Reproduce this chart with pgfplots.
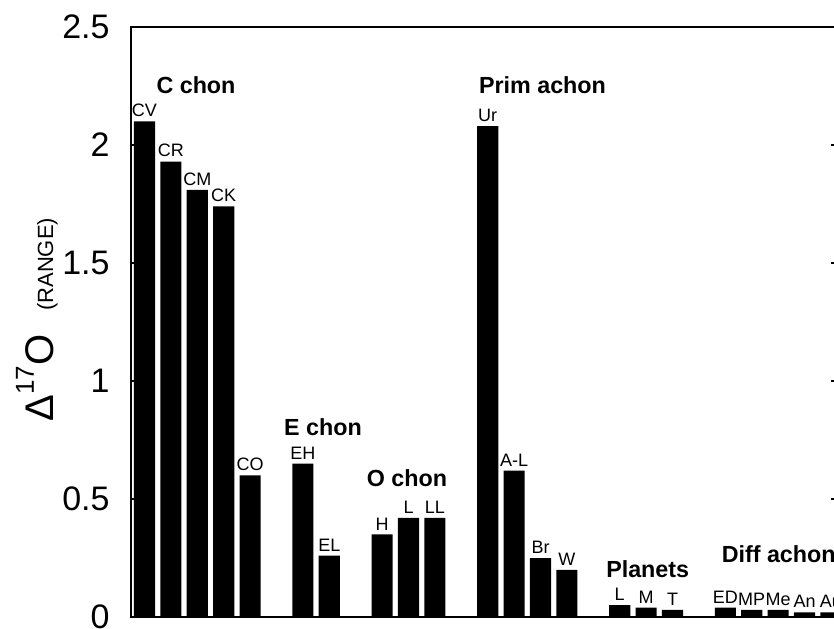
\documentclass[border=0pt]{standalone}
\usepackage{pgfplots}
\pgfplotsset{compat=1.18}
\usepackage{pgfplotstable}
\usepackage{fontspec}
\setmainfont{Liberation Sans}

\pgfplotstableread{
x label y
0 CV 2.10
1 CR 1.93
2 CM 1.81
3 CK 1.74
4 CO 0.60
6 EH 0.65
7 EL 0.26
9 H 0.35
10 L 0.42
11 LL 0.42
13 Ur 2.08
14 A-L 0.62
15 Br 0.25
16 W 0.20
18 L 0.05
19 M 0.04
20 T 0.03
22 ED 0.04
23 MP 0.03
24 Me 0.03
25 An 0.02
26 Au 0.02
}\datatable

\begin{document}
\begin{tikzpicture}
\path[use as bounding box] (0,0) rectangle (417pt,314pt);
\clip (0,0) rectangle (417pt,314pt);
\begin{axis}[
  at={(65.5pt,5.5pt)}, anchor=south west,
  scale only axis, width=352.5pt, height=295pt,
  xmin=-0.5114, xmax=26.193, ymin=0, ymax=2.5,
  ytick={0,0.5,1,1.5,2,2.5},
  xtick=\empty,
  tick align=inside,
  ytick pos=both,
  yticklabel pos=left,
  major tick length=2.6pt,
  axis line style={line width=1.1pt},
  every tick/.style={black, line width=1pt},
  yticklabel style={font=\fontsize{17}{17}\selectfont, inner sep=0pt, xshift=-10.5pt},
  /pgf/number format/assume math mode=true,
  ybar, bar width=0.8, bar shift=0pt,
  nodes near coords, point meta=explicit symbolic,
  every node near coord/.append style={font=\fontsize{9}{9}\selectfont, inner sep=0pt, yshift=2pt, anchor=south},
]
\addplot[fill=black, draw=none] table[x=x, y=y, meta=label] {\datatable};
\begin{scope}[every node/.style={font=\bfseries\fontsize{11.65}{11.65}\selectfont, inner sep=0pt}]
\node[anchor=base] at (axis cs:1.951,2.22) {C chon};
\node[anchor=base] at (axis cs:6.758,0.767) {E chon};
\node[anchor=base] at (axis cs:9.943,0.551) {O chon};
\node[anchor=base] at (axis cs:15.076,2.22) {Prim achon};
\node[anchor=base] at (axis cs:19.06,0.169) {Planets};
\node[anchor=base west] at (axis cs:21.85,0.233) {Diff achon};
\end{scope}
\end{axis}
\node[rotate=90, anchor=base west, inner sep=0pt] at (26.5pt,103pt)
  {\fontsize{20}{20}\selectfont Δ\raisebox{9.5pt}{\fontsize{13}{13}\selectfont 17}O\hspace{12pt}{\fontsize{11}{11}\selectfont (RANGE)}};
\end{tikzpicture}
\end{document}
